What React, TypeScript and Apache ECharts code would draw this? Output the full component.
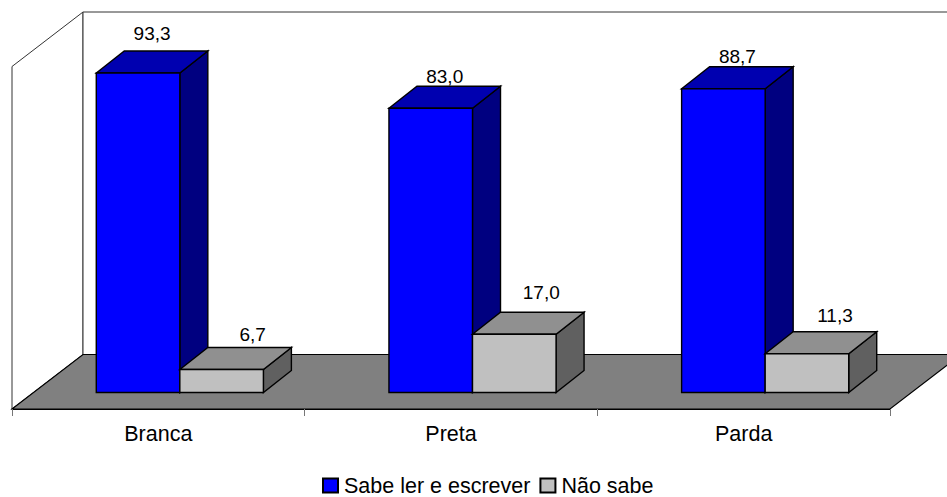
import React, { useEffect, useRef } from "react";
import * as echarts from "echarts";

const categories = ["Branca", "Preta", "Parda"];
const readers = [93.3, 83.0, 88.7];
const nonReaders = [6.7, 17.0, 11.3];

// Per-bar nudges of the value labels, in pixels from the bar's top-back edge.
const readerLabelShift = [[0, -17], [0, -9.5], [0, -10]];
const nonReaderLabelShift = [[17, -13], [13, -20], [14, -16]];

const FLOOR_DX = 71;
const FLOOR_DY = 54.5;
const BAR_INSET_X = 21.5;
const BAR_INSET_Y = 16.5;
const BAR_DX = 28;
const BAR_DY = 22;
const BAR_WIDTH_RATIO = 0.2855;
const FONT = '"Liberation Sans", Arial, sans-serif';

const comma = (v: number) => v.toFixed(1).replace(".", ",");

type Colors = { front: string; top: string; side: string };

function renderBox(side: "left" | "right", colors: Colors, shifts: number[][]) {
  return (params: any, api: any) => {
    const i = api.value(0);
    const v = api.value(1);
    const base = api.coord([i, 0]);
    const tip = api.coord([i, v]);
    const w = api.size([1, 0])[0] * BAR_WIDTH_RATIO;
    const mid = base[0] + BAR_INSET_X;
    const x0 = side === "left" ? mid - w : mid;
    const x1 = x0 + w;
    const yb = base[1] - BAR_INSET_Y;
    const yt = tip[1] - BAR_INSET_Y;
    const edge = { stroke: "#000", lineWidth: 1.4, lineJoin: "miter" };
    const [sx, sy] = shifts[i];
    return {
      type: "group",
      children: [
        {
          type: "polygon",
          shape: { points: [[x1, yt], [x1 + BAR_DX, yt - BAR_DY], [x1 + BAR_DX, yb - BAR_DY], [x1, yb]] },
          style: { fill: colors.side, ...edge },
        },
        {
          type: "polygon",
          shape: { points: [[x0, yt], [x0 + BAR_DX, yt - BAR_DY], [x1 + BAR_DX, yt - BAR_DY], [x1, yt]] },
          style: { fill: colors.top, ...edge },
        },
        {
          type: "rect",
          shape: { x: x0, y: yt, width: w, height: yb - yt },
          style: { fill: colors.front, ...edge },
        },
        {
          type: "text",
          x: (x0 + x1) / 2 + BAR_DX / 2 + sx,
          y: yt - BAR_DY + sy,
          style: {
            text: comma(v),
            fill: "#000",
            font: `19px ${FONT}`,
            align: "center",
            verticalAlign: "middle",
          },
        },
      ],
    };
  };
}

function renderFrame(params: any, api: any) {
  const band = api.size([1, 0])[0];
  const first = api.coord([0, 0]);
  const last = api.coord([categories.length - 1, 0]);
  const ceil = api.coord([0, 100])[1];
  const left = first[0] - band / 2;
  const right = last[0] + band / 2;
  const floor = first[1];
  const wall = { stroke: "#333", lineWidth: 1, fill: "#fff" };
  return {
    type: "group",
    children: [
      {
        type: "polygon",
        shape: {
          points: [
            [left, floor], [left, ceil], [left + FLOOR_DX, ceil - FLOOR_DY],
            [left + FLOOR_DX, floor - FLOOR_DY],
          ],
        },
        style: wall,
      },
      {
        type: "polygon",
        shape: {
          points: [
            [left + FLOOR_DX, floor - FLOOR_DY], [left + FLOOR_DX, ceil - FLOOR_DY],
            [right + FLOOR_DX, ceil - FLOOR_DY], [right + FLOOR_DX, floor - FLOOR_DY],
          ],
        },
        style: wall,
      },
      {
        type: "polygon",
        shape: {
          points: [
            [left, floor], [left + FLOOR_DX, floor - FLOOR_DY],
            [right + FLOOR_DX, floor - FLOOR_DY], [right, floor],
          ],
        },
        style: { fill: "#808080", stroke: "#000", lineWidth: 1.2 },
      },
    ],
  };
}

export default function App() {
  const ref = useRef<HTMLDivElement>(null);

  useEffect(() => {
    const chart = echarts.init(ref.current!, null, { renderer: "svg" });
    chart.setOption({
      animation: false,
      backgroundColor: "#fff",
      grid: { left: 12, right: 57, top: 66.5, bottom: 88 },
      xAxis: {
        type: "category",
        data: categories,
        axisLine: { lineStyle: { color: "#000", width: 1.2 } },
        axisTick: { show: true, length: 7, lineStyle: { color: "#777", width: 1 } },
        axisLabel: { color: "#000", fontFamily: FONT, fontSize: 21.5, margin: 14 },
        z: 10,
      },
      yAxis: { type: "value", min: 0, max: 100, interval: 20, show: false },
      legend: {
        data: ["Sabe ler e escrever", "Não sabe"],
        left: 322,
        top: 474.5,
        itemWidth: 15,
        itemHeight: 14,
        itemGap: 9,
        icon: "rect",
        // Bottom padding lifts the text so it stays inside the page while the swatches sit lower.
        textStyle: { color: "#000", fontFamily: FONT, fontSize: 21.5, padding: [0, 0, 8, 1] },
        padding: 0,
      },
      series: [
        {
          type: "custom",
          name: "frame",
          renderItem: renderFrame,
          data: [[0, 0]],
          silent: true,
          z: 0,
        },
        {
          type: "custom",
          name: "Sabe ler e escrever",
          renderItem: renderBox("left", { front: "#0000FF", top: "#0000B0", side: "#000080" }, readerLabelShift),
          data: readers.map((v, i) => [i, v]),
          itemStyle: { color: "#0000FF", borderColor: "#000", borderWidth: 1 },
          z: 3,
        },
        {
          type: "custom",
          name: "Não sabe",
          renderItem: renderBox("right", { front: "#C0C0C0", top: "#909090", side: "#606060" }, nonReaderLabelShift),
          data: nonReaders.map((v, i) => [i, v]),
          itemStyle: { color: "#C0C0C0", borderColor: "#000", borderWidth: 1 },
          z: 4,
        },
      ],
    });
    return () => chart.dispose();
  }, []);

  return <div ref={ref} style={{ position: "absolute", left: 0, top: 0, width: 947, height: 497 }} />;
}
